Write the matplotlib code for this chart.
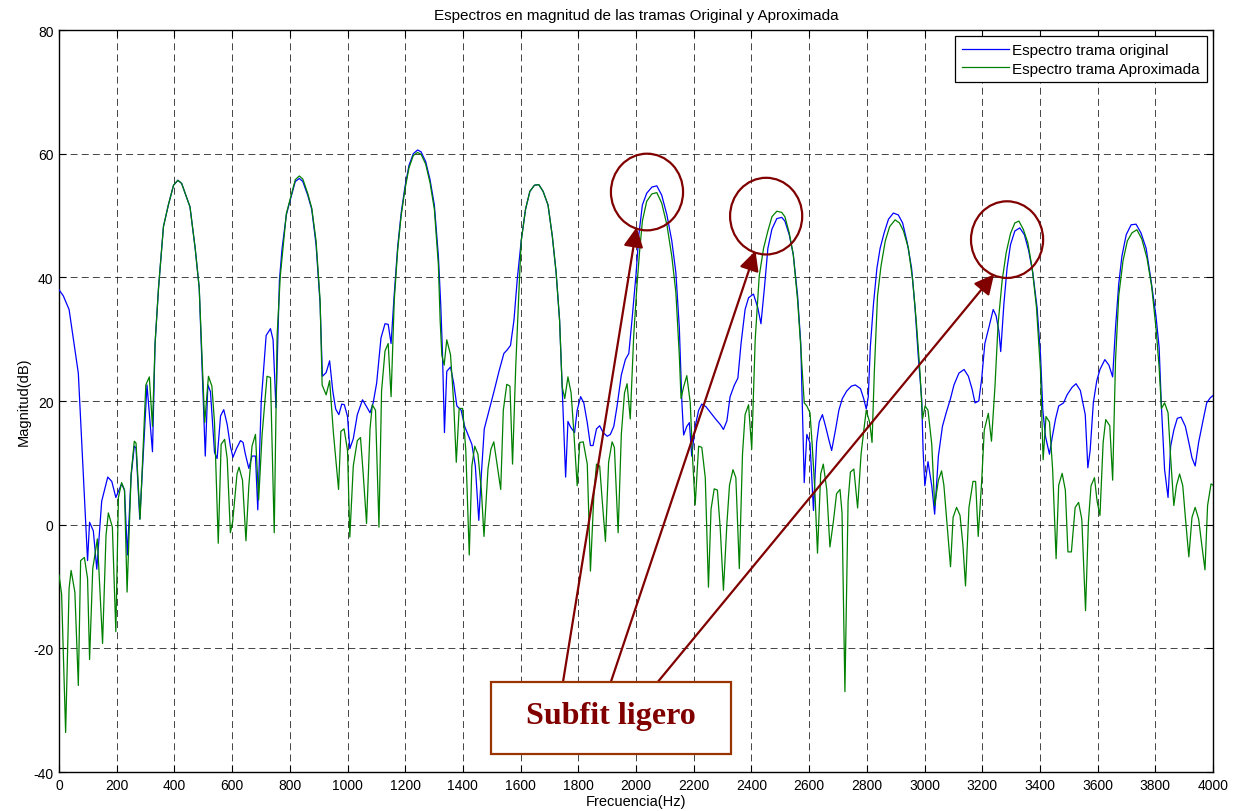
import matplotlib
matplotlib.use("Agg")
import matplotlib.pyplot as plt
from matplotlib.patches import Ellipse, Rectangle

# ---------------- data ----------------
freq_orig = [0, 15, 35, 67, 99, 106, 119, 131, 148, 169, 183, 197, 217, 227, 237, 250, 261, 267, 280, 305,
             324, 333, 345, 362, 379, 397, 412, 425, 454, 472, 486, 507, 516, 525, 539, 548, 560, 571, 583, 594,
             603, 615, 629, 638, 646, 658, 669, 681, 689, 701, 718, 733, 742, 752, 764, 773, 788, 802, 819, 833,
             845, 862, 876, 891, 905, 913, 926, 938, 949, 959, 970, 980, 989, 1000, 1008, 1020, 1034, 1052, 1066, 1078,
             1089, 1101, 1116, 1130, 1141, 1151, 1162, 1174, 1186, 1199, 1213, 1228, 1243, 1255, 1271, 1286, 1301, 1315, 1323, 1329,
             1336, 1344, 1357, 1368, 1379, 1394, 1406, 1420, 1431, 1443, 1455, 1464, 1474, 1489, 1508, 1525, 1542, 1554, 1565, 1577,
             1588, 1602, 1617, 1632, 1648, 1663, 1678, 1695, 1710, 1723, 1735, 1744, 1756, 1764, 1773, 1787, 1796, 1808, 1819, 1831,
             1842, 1851, 1863, 1874, 1886, 1900, 1911, 1923, 1934, 1949, 1963, 1975, 1986, 2000, 2010, 2022, 2037, 2055, 2072, 2089,
             2107, 2124, 2138, 2150, 2159, 2165, 2176, 2185, 2193, 2205, 2217, 2228, 2242, 2257, 2274, 2292, 2303, 2315, 2326, 2341,
             2353, 2364, 2378, 2390, 2407, 2422, 2433, 2445, 2457, 2471, 2488, 2505, 2516, 2531, 2545, 2560, 2571, 2583, 2592, 2603,
             2615, 2626, 2635, 2646, 2657, 2669, 2678, 2692, 2703, 2715, 2730, 2746, 2760, 2778, 2789, 2798, 2805, 2812, 2823, 2835,
             2846, 2860, 2875, 2892, 2909, 2924, 2940, 2955, 2967, 2978, 2990, 2995, 3001, 3012, 3025, 3035, 3048, 3062, 3075, 3090,
             3102, 3119, 3137, 3152, 3165, 3175, 3188, 3198, 3209, 3223, 3238, 3248, 3258, 3264, 3275, 3286, 3298, 3313, 3330, 3346,
             3361, 3375, 3390, 3402, 3410, 3419, 3433, 3442, 3454, 3465, 3482, 3494, 3511, 3525, 3540, 3557, 3566, 3574, 3585, 3597,
             3608, 3625, 3639, 3652, 3662, 3673, 3684, 3699, 3716, 3733, 3750, 3768, 3785, 3802, 3813, 3821, 3832, 3844, 3853, 3864,
             3876, 3889, 3904, 3916, 3927, 3938, 3950, 3965, 3978, 3990, 4000]
mag_orig = [38.0, 37.0, 34.8, 24.5, -5.8, 0.4, -1.0, -7.2, 3.8, 7.7, 7.0, 4.4, 6.6, 5.6, -4.9, 7.9, 12.7, 12.4, 0.9, 22.6,
            11.8, 29.3, 38.3, 48.2, 51.7, 54.9, 55.7, 55.2, 51.4, 44.7, 38.3, 11.1, 22.6, 21.5, 11.7, 10.7, 17.6, 18.6, 16.2, 12.7,
            10.9, 12.3, 13.6, 13.3, 11.4, 9.1, 11.1, 11.1, 2.4, 20.0, 30.6, 31.7, 29.9, 18.9, 39.5, 44.6, 50.1, 52.6, 55.5, 56.0,
            55.5, 53.3, 51.0, 45.3, 35.7, 24.0, 24.6, 26.5, 21.6, 18.7, 17.8, 19.5, 19.4, 17.5, 12.3, 13.9, 17.8, 20.2, 19.1, 18.1,
            19.7, 22.9, 30.2, 32.5, 32.4, 29.3, 37.3, 45.0, 50.4, 54.6, 58.1, 60.0, 60.6, 60.3, 58.7, 55.8, 51.7, 43.4, 35.7, 28.0,
            14.9, 24.8, 25.5, 22.9, 19.2, 18.5, 15.9, 14.3, 13.0, 9.5, 0.7, 8.2, 15.5, 18.2, 21.6, 24.8, 27.7, 28.3, 29.0, 33.1,
            39.5, 45.9, 51.0, 53.9, 54.9, 55.0, 53.9, 51.7, 46.6, 40.8, 33.1, 22.3, 7.7, 16.7, 15.8, 14.9, 18.5, 20.7, 19.7, 16.5,
            12.8, 12.8, 15.5, 16.0, 14.9, 14.3, 14.6, 15.9, 19.1, 24.2, 26.7, 27.7, 33.1, 40.5, 47.0, 51.7, 53.6, 54.6, 54.8, 53.3,
            50.1, 45.9, 40.8, 31.9, 19.7, 14.5, 15.9, 16.5, 11.1, 15.9, 18.5, 19.5, 19.1, 18.2, 17.2, 16.2, 15.4, 16.8, 20.7, 22.6,
            23.7, 29.3, 34.8, 36.7, 37.3, 35.1, 32.5, 38.3, 44.7, 47.8, 49.5, 49.7, 49.1, 46.9, 43.7, 37.0, 29.3, 6.8, 14.6, 13.2,
            2.3, 13.3, 16.6, 17.8, 15.9, 13.6, 12.0, 15.5, 18.5, 20.4, 21.6, 22.4, 22.6, 22.0, 20.4, 18.7, 20.7, 28.7, 35.7, 41.5,
            44.7, 47.2, 49.4, 50.4, 50.1, 48.8, 45.6, 41.5, 35.1, 27.4, 20.4, 12.0, 6.3, 10.2, 6.3, 1.7, 11.1, 15.9, 18.1, 20.4,
            22.6, 24.5, 25.1, 24.0, 21.9, 19.7, 20.0, 23.6, 29.3, 31.9, 34.8, 33.8, 31.2, 28.0, 35.7, 41.5, 45.3, 47.5, 48.0, 46.9,
            44.3, 40.8, 35.1, 27.4, 18.5, 14.3, 11.4, 14.0, 17.1, 19.2, 19.7, 21.0, 22.2, 22.8, 21.7, 17.8, 9.2, 12.0, 19.7, 23.3,
            25.1, 26.7, 25.8, 23.9, 31.9, 38.9, 43.4, 46.9, 48.5, 48.6, 47.2, 44.7, 39.5, 33.8, 28.7, 19.1, 8.9, 4.4, 12.7, 15.3,
            17.2, 17.4, 15.9, 13.3, 10.8, 9.5, 13.3, 16.8, 19.7, 20.5, 20.9]

freq_aprox = [0, 9, 23, 35, 42, 55, 67, 75, 88, 99, 106, 117, 133, 151, 163, 171, 185, 197, 206, 217,
              227, 236, 250, 261, 267, 281, 301, 313, 324, 333, 345, 362, 379, 397, 412, 425, 454, 472, 486, 505,
              518, 530, 539, 552, 562, 574, 583, 594, 602, 617, 624, 636, 648, 658, 669, 681, 692, 704, 721, 733,
              746, 756, 767, 788, 802, 819, 833, 845, 862, 876, 891, 905, 912, 926, 938, 951, 969, 977, 988, 1000,
              1008, 1020, 1034, 1045, 1054, 1066, 1078, 1086, 1097, 1109, 1118, 1130, 1141, 1151, 1162, 1174, 1186, 1199, 1213, 1228,
              1243, 1255, 1271, 1286, 1301, 1315, 1321, 1327, 1335, 1344, 1357, 1368, 1377, 1387, 1399, 1410, 1422, 1431, 1441, 1452,
              1464, 1473, 1487, 1497, 1507, 1519, 1531, 1540, 1552, 1563, 1572, 1583, 1594, 1602, 1617, 1632, 1648, 1663, 1678, 1695,
              1710, 1723, 1735, 1744, 1753, 1764, 1775, 1784, 1796, 1805, 1817, 1831, 1842, 1854, 1863, 1874, 1882, 1894, 1905, 1917,
              1925, 1938, 1949, 1960, 1969, 1980, 1992, 2003, 2012, 2022, 2037, 2055, 2072, 2089, 2107, 2124, 2138, 2150, 2156, 2165,
              2176, 2188, 2196, 2205, 2217, 2228, 2240, 2251, 2260, 2271, 2282, 2292, 2303, 2315, 2324, 2336, 2346, 2358, 2369, 2378,
              2390, 2401, 2413, 2427, 2442, 2457, 2471, 2488, 2505, 2516, 2531, 2545, 2560, 2571, 2583, 2592, 2603, 2610, 2619, 2629,
              2640, 2649, 2661, 2672, 2684, 2695, 2707, 2714, 2724, 2735, 2743, 2755, 2768, 2780, 2789, 2798, 2810, 2818, 2826, 2837,
              2849, 2864, 2879, 2898, 2913, 2927, 2944, 2959, 2972, 2984, 2993, 3002, 3012, 3025, 3035, 3048, 3059, 3067, 3079, 3090,
              3099, 3111, 3123, 3133, 3142, 3154, 3168, 3177, 3186, 3198, 3207, 3221, 3232, 3244, 3255, 3269, 3283, 3298, 3313, 3327,
              3342, 3358, 3373, 3388, 3402, 3411, 3421, 3433, 3444, 3456, 3465, 3477, 3488, 3497, 3509, 3522, 3534, 3545, 3558, 3568,
              3577, 3589, 3598, 3608, 3619, 3628, 3642, 3652, 3662, 3673, 3688, 3703, 3719, 3736, 3753, 3771, 3787, 3802, 3813, 3821,
              3832, 3844, 3853, 3864, 3873, 3884, 3895, 3904, 3916, 3927, 3938, 3950, 3961, 3972, 3981, 3993, 4000]
mag_aprox = [-8.1, -11.2, -33.6, -10.3, -7.4, -10.9, -26.0, -5.8, -5.3, -8.7, -21.8, -7.1, -2.3, -19.2, -1.7, 1.9, -0.4, -17.3, 4.4, 6.8,
             5.6, -10.9, 8.2, 13.5, 13.2, 0.9, 22.6, 23.9, 15.9, 29.3, 38.3, 48.2, 51.7, 54.9, 55.7, 55.2, 51.4, 44.7, 38.3, 16.5,
             24.0, 22.4, 16.5, -3.0, 13.0, 13.8, 10.7, -1.3, 0.5, 8.2, 9.3, 7.2, -2.6, 6.3, 12.7, 14.6, 4.0, 14.6, 24.0, 23.8,
             -1.3, 30.6, 40.2, 50.3, 52.8, 55.8, 56.4, 55.9, 53.6, 51.2, 45.9, 36.3, 22.6, 21.0, 23.3, 14.9, 5.7, 15.1, 15.5, 12.0,
             -2.0, 9.5, 13.6, 14.1, 8.5, 0.2, 15.5, 19.4, 18.5, -0.4, 21.6, 28.1, 29.3, 20.7, 36.3, 44.5, 50.0, 54.2, 57.7, 59.7,
             60.2, 59.9, 58.3, 55.3, 51.0, 42.0, 33.1, 27.4, 25.8, 29.9, 27.5, 19.7, 10.1, 18.8, 18.8, 12.0, -4.9, 9.5, 12.7, 11.4,
             5.6, -1.9, 9.1, 12.2, 13.4, 9.5, 5.7, 18.5, 22.7, 22.4, 9.8, 25.5, 37.6, 45.9, 51.0, 53.9, 54.9, 55.0, 53.9, 51.7,
             46.6, 40.8, 33.1, 22.3, 20.4, 23.9, 21.3, 15.3, 6.3, 13.3, 13.4, 9.8, -7.5, 5.0, 9.8, 9.5, 4.4, -2.7, 10.1, 13.4,
             12.5, -1.3, 14.6, 21.3, 22.8, 17.1, 30.6, 38.5, 44.0, 49.1, 52.3, 53.5, 53.7, 52.0, 48.5, 43.4, 37.6, 27.4, 20.4, 22.3,
             24.1, 19.7, 10.7, 3.2, 12.7, 12.5, 7.6, -10.1, 2.5, 5.8, 5.6, -0.7, -10.6, 0.2, 6.4, 8.9, 7.6, -7.1, 11.4, 17.8,
             19.4, 12.2, 29.9, 40.2, 44.7, 47.5, 49.8, 50.7, 50.5, 49.8, 47.2, 43.7, 36.3, 28.7, 19.7, 19.2, 18.1, 13.3, 6.3, -4.6,
             8.2, 9.8, 5.7, -3.6, 0.5, 5.0, 5.7, 1.9, -27.0, 3.8, 8.5, 9.0, 2.7, 11.4, 15.1, 18.5, 16.5, 13.3, 24.8, 37.0,
             41.8, 45.9, 48.2, 49.3, 48.8, 47.5, 44.7, 39.5, 32.5, 24.8, 17.1, 19.2, 18.5, 13.0, 3.1, 7.2, 8.7, 6.4, -0.4, -6.8,
             1.2, 2.8, 1.5, -3.3, -9.9, 2.8, 7.0, 7.0, -1.9, 7.0, 15.3, 18.0, 13.5, 22.3, 32.5, 39.5, 44.0, 47.1, 48.8, 49.1,
             47.8, 45.6, 41.5, 35.1, 24.8, 10.5, 17.5, 16.6, 8.9, -5.5, 6.4, 8.3, 5.6, -4.4, -4.4, 2.8, 3.6, 0.9, -13.9, 0.5,
             6.3, 7.6, 3.8, 1.5, 13.3, 17.0, 16.0, 7.2, 26.7, 37.0, 42.7, 45.9, 47.2, 47.7, 46.2, 43.1, 38.6, 31.9, 25.5, 18.8,
             19.7, 18.1, 10.8, 3.1, 6.3, 8.2, 6.3, 1.2, -5.2, 1.2, 2.8, 0.9, -3.3, -7.3, 3.1, 6.6, 6.4]

series_labels = ["Espectro trama original", "Espectro trama Aproximada"]
x_ticks = list(range(0, 4001, 200))
y_ticks = list(range(-40, 81, 20))
title_text = "Espectros en magnitud de las tramas Original y Aproximada"
xlabel_text = "Frecuencia(Hz)"
ylabel_text = "Magnitud(dB)"
note_text = "Subfit ligero"

# ---------------- style ----------------
plt.rcParams["font.family"] = ["Liberation Sans", "DejaVu Sans"]
plt.rcParams["font.size"] = 10
plt.rcParams["axes.unicode_minus"] = False
plt.rcParams["xtick.direction"] = "in"
plt.rcParams["ytick.direction"] = "in"
plt.rcParams["xtick.top"] = True
plt.rcParams["ytick.right"] = True
plt.rcParams["lines.scale_dashes"] = False

DARKRED = "#800000"
BOXEDGE = "#993300"

fig = plt.figure(figsize=(12.42, 8.12), dpi=100)
ax = fig.add_axes([0.0475, 0.0480, 0.9292, 0.9138])

ax.plot(freq_orig, mag_orig, color=(0, 0, 1), lw=0.9, label=series_labels[0], zorder=3)
ax.plot(freq_aprox, mag_aprox, color=(0, 0.5, 0), lw=0.9, label=series_labels[1], zorder=3)

ax.set_xlim(0, 4000)
ax.set_ylim(-40, 80)
ax.set_xticks(x_ticks)
ax.set_yticks(y_ticks)
ax.tick_params(length=5, width=0.8, labelsize=10, pad=4)
ax.grid(True, color="k", linestyle=(0, (5, 3)), linewidth=0.6, alpha=0.85)
for s in ax.spines.values():
    s.set_linewidth(1.0)

ax.set_title(title_text, fontsize=11, pad=8)
ax.set_xlabel(xlabel_text, fontsize=10.5, labelpad=2)
ax.set_ylabel(ylabel_text, fontsize=10.5, labelpad=2)

leg = ax.legend(loc="upper right", fancybox=False, edgecolor="k", framealpha=1,
                borderaxespad=0.4, handlelength=3.1, handletextpad=0.2,
                labelspacing=0.3, borderpad=0.45, fontsize=11)
leg.get_frame().set_linewidth(0.9)

# ---------------- annotations ----------------
circle_centers = [(2038, 53.8), (2451, 49.9), (3286, 46.1)]
for cx, cy in circle_centers:
    ax.add_patch(Ellipse((cx, cy), width=250, height=12.4, fill=False,
                         edgecolor=DARKRED, lw=1.6, zorder=5))

arrow_pairs = [((1747, -25.4), (2002, 48.1)),
               ((1913, -25.4), (2414, 44.3)),
               ((2076, -25.4), (3241, 40.5))]
for start, tip in arrow_pairs:
    ax.annotate("", xy=tip, xytext=start,
                arrowprops=dict(arrowstyle="-|>", color=DARKRED, lw=1.6,
                                mutation_scale=30, shrinkA=0, shrinkB=0),
                zorder=5)

ax.add_patch(Rectangle((1497, -37.1), 832, 11.7, facecolor="white",
                       edgecolor=BOXEDGE, lw=1.6, zorder=6))
ax.text(1913, -30.8, note_text, ha="center", va="center",
        fontsize=23, fontweight="bold", color=DARKRED,
        family=["Liberation Serif", "DejaVu Serif"], zorder=7)

fig.savefig("out.png", dpi=100)
